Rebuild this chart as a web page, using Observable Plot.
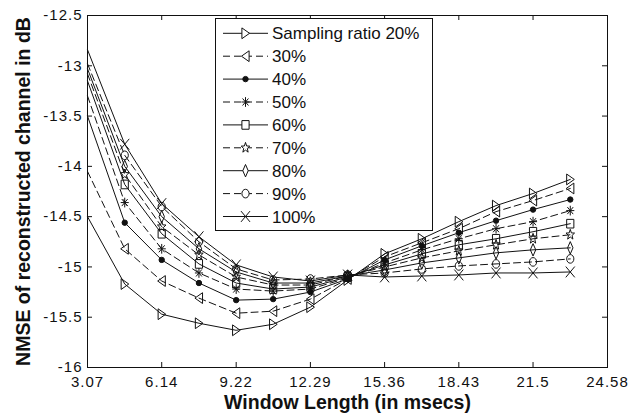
<!DOCTYPE html>
<html><head><meta charset="utf-8">
<script src="https://cdn.jsdelivr.net/npm/d3@7"></script>
<script src="https://cdn.jsdelivr.net/npm/@observablehq/plot@0.6"></script>
<style>body{margin:0;background:#fff;} svg{display:block;background:#fff}</style>
</head><body><div id="chart"></div>
<script>
// ---------------- data ----------------
const windowLengths = [3.07, 4.61, 6.14, 7.68, 9.22, 10.75, 12.29, 13.83, 15.36, 16.9, 18.43, 19.97, 21.5, 23.04];
const seriesNames = ["20%", "30%", "40%", "50%", "60%", "70%", "80%", "90%", "100%"];
const legendLabels = ["Sampling ratio 20%", "30%", "40%", "50%", "60%", "70%", "80%", "90%", "100%"];
const nmse20  = [-14.50, -15.17, -15.47, -15.56, -15.63, -15.57, -15.40, -15.13, -14.87, -14.72, -14.55, -14.39, -14.27, -14.13];
const nmse30  = [-14.05, -14.82, -15.14, -15.31, -15.46, -15.44, -15.32, -15.12, -14.90, -14.76, -14.62, -14.45, -14.34, -14.22];
const nmse40  = [-13.50, -14.56, -14.93, -15.16, -15.33, -15.32, -15.25, -15.12, -14.93, -14.79, -14.66, -14.54, -14.43, -14.33];
const nmse50  = [-13.30, -14.36, -14.82, -15.06, -15.22, -15.24, -15.22, -15.11, -14.96, -14.83, -14.72, -14.62, -14.55, -14.44];
const nmse60  = [-13.15, -14.18, -14.67, -14.97, -15.16, -15.22, -15.20, -15.10, -14.98, -14.87, -14.78, -14.72, -14.65, -14.57];
const nmse70  = [-13.08, -14.08, -14.60, -14.88, -15.10, -15.18, -15.18, -15.09, -15.00, -14.91, -14.84, -14.78, -14.72, -14.68];
const nmse80  = [-13.03, -14.00, -14.50, -14.82, -15.05, -15.16, -15.16, -15.09, -15.03, -14.96, -14.91, -14.86, -14.83, -14.81];
const nmse90  = [-12.98, -13.89, -14.40, -14.75, -15.02, -15.13, -15.12, -15.08, -15.06, -15.02, -14.99, -14.97, -14.95, -14.92];
const nmse100 = [-12.84, -13.78, -14.37, -14.70, -14.98, -15.10, -15.14, -15.08, -15.10, -15.09, -15.08, -15.06, -15.06, -15.05];
const seriesValues = [nmse20, nmse30, nmse40, nmse50, nmse60, nmse70, nmse80, nmse90, nmse100];

const xTicks = [3.07, 6.14, 9.22, 12.29, 15.36, 18.43, 21.5, 24.58];
const xTickLabels = ["3.07", "6.14", "9.22", "12.29", "15.36", "18.43", "21.5", "24.58"];
const yTicks = [-16, -15.5, -15, -14.5, -14, -13.5, -13, -12.5];
const yTickLabels = ["-16", "-15.5", "-15", "-14.5", "-14", "-13.5", "-13", "-12.5"];
const xLabel = "Window Length (in msecs)";
const yLabel = "NMSE of reconstructed channel in dB";

// ---------------- styles ----------------
const seriesStyle = [
  {dash: false, marker: "triRight"},
  {dash: true,  marker: "triLeft"},
  {dash: false, marker: "point"},
  {dash: true,  marker: "asterisk"},
  {dash: false, marker: "square"},
  {dash: true,  marker: "pentagram"},
  {dash: false, marker: "diamond"},
  {dash: true,  marker: "circle"},
  {dash: false, marker: "cross"}
];
const INK = "#111";
const FONT = "Arial, 'Liberation Sans', sans-serif";
const W = 644, H = 415, mL = 87, mR = 37, mT = 15, mB = 48;
const pw = W - mL - mR, ph = H - mT - mB;
const MR = 4.5; // marker radius
const SY = 1.2; // vertical stretch of markers

function sym(kind) {
  return {draw(c, size) {
    const r = Math.sqrt(size / Math.PI);
    switch (kind) {
      case "triRight": c.moveTo(-0.8*r, -r*SY); c.lineTo(0.9*r, 0); c.lineTo(-0.8*r, r*SY); c.closePath(); break;
      case "triLeft":  c.moveTo(0.8*r, -r*SY); c.lineTo(-0.9*r, 0); c.lineTo(0.8*r, r*SY); c.closePath(); break;
      case "point": c.moveTo(0.6*r, 0); c.arc(0, 0, 0.6*r, 0, 2*Math.PI); break;
      case "asterisk": {
        const a = 0.9*r, b = a*SY, d = 0.65*r;
        c.moveTo(0, -b); c.lineTo(0, b);
        c.moveTo(-a, 0); c.lineTo(a, 0);
        c.moveTo(-d, -d*SY); c.lineTo(d, d*SY);
        c.moveTo(-d, d*SY); c.lineTo(d, -d*SY);
        break;
      }
      case "square": c.moveTo(-0.8*r, -0.8*r*SY); c.lineTo(0.8*r, -0.8*r*SY); c.lineTo(0.8*r, 0.8*r*SY); c.lineTo(-0.8*r, 0.8*r*SY); c.closePath(); break;
      case "pentagram": {
        const ro = 1.0*r, ri = 0.42*r;
        for (let k = 0; k < 10; k++) {
          const ang = -Math.PI/2 + k*Math.PI/5, rr = k % 2 ? ri : ro;
          const px = rr*Math.cos(ang), py = rr*Math.sin(ang)*SY;
          k ? c.lineTo(px, py) : c.moveTo(px, py);
        }
        c.closePath(); break;
      }
      case "diamond": c.moveTo(0, -1.15*r*SY); c.lineTo(0.6*r, 0); c.lineTo(0, 1.15*r*SY); c.lineTo(-0.6*r, 0); c.closePath(); break;
      case "circle": {
        const rx = 0.8*r, ry = 0.8*r*SY, k = 0.5523;
        c.moveTo(rx, 0);
        c.bezierCurveTo(rx, ry*k, rx*k, ry, 0, ry);
        c.bezierCurveTo(-rx*k, ry, -rx, ry*k, -rx, 0);
        c.bezierCurveTo(-rx, -ry*k, -rx*k, -ry, 0, -ry);
        c.bezierCurveTo(rx*k, -ry, rx, -ry*k, rx, 0);
        c.closePath(); break;
      }
      case "cross": { const a = r, b = r*SY; c.moveTo(-a, -b); c.lineTo(a, b); c.moveTo(-a, b); c.lineTo(a, -b); break; }
    }
  }};
}

// ---------------- marks ----------------
const marks = [];
seriesNames.forEach((name, i) => {
  const rows = windowLengths.map((x, j) => ({x, y: seriesValues[i][j], series: name}));
  const st = seriesStyle[i];
  marks.push(Plot.line(rows, {x: "x", y: "y", stroke: INK, strokeWidth: 1, strokeDasharray: st.dash ? "7,4" : null}));
  marks.push(Plot.dot(rows.filter(d => d.x > windowLengths[0]), {
    x: "x", y: "y", r: MR, symbol: sym(st.marker), stroke: INK, strokeWidth: 1,
    fill: st.marker === "point" ? INK : "none"
  }));
});

const svg = Plot.plot({
  width: W, height: H,
  marginLeft: mL, marginRight: mR, marginTop: mT, marginBottom: mB,
  style: {fontFamily: FONT, background: "#fff", color: INK},
  x: {domain: [xTicks[0], xTicks[xTicks.length - 1]]},
  y: {domain: [yTicks[0], yTicks[yTicks.length - 1]]},
  marks: [
    ...marks,
    Plot.tickX(xTicks, {x: d => d, insetTop: ph - 5, stroke: INK}),
    Plot.tickX(xTicks, {x: d => d, insetBottom: ph - 5, stroke: INK}),
    Plot.tickY(yTicks, {y: d => d, insetRight: pw - 5, stroke: INK}),
    Plot.tickY(yTicks, {y: d => d, insetLeft: pw - 5, stroke: INK}),
    Plot.axisX({ticks: xTicks, tickSize: 0, tickPadding: 9, fontSize: 15, label: null,
      tickFormat: d => xTickLabels[xTicks.indexOf(d)]}),
    Plot.axisY({ticks: yTicks, tickSize: 0, tickPadding: 5, fontSize: 15, label: null,
      tickFormat: d => yTickLabels[yTicks.indexOf(d)]}),
    Plot.frame({stroke: INK, strokeWidth: 1}),
    Plot.text([xLabel], {text: d => d, frameAnchor: "bottom", dy: 41, lineAnchor: "bottom", textAnchor: "middle", fontSize: 19.5, fontWeight: "bold", fill: INK}),
    Plot.text([yLabel], {text: d => d, frameAnchor: "left", dx: -58, rotate: -90, lineAnchor: "bottom", textAnchor: "middle", fontSize: 19.5, fontWeight: "bold", fill: INK})
  ]
});

d3.select(svg).selectAll("g[aria-label='x-axis tick label'] text, g[aria-label='y-axis tick label'] text")
  .style("letter-spacing", "1px");

// ---------------- legend ----------------
const lg = d3.select(svg).append("g").attr("class", "legend").attr("text-anchor", "start");
const LX = 215.5, LY = 18.5, LW = 217, LH = 212, row0 = 33.3, rowStep = 22.9;
lg.append("rect").attr("x", LX).attr("y", LY).attr("width", LW).attr("height", LH)
  .attr("fill", "#fff").attr("stroke", INK).attr("stroke-width", 1);
legendLabels.forEach((lab, i) => {
  const cy = row0 + i * rowStep, st = seriesStyle[i];
  lg.append("line").attr("x1", 223).attr("x2", 268).attr("y1", cy).attr("y2", cy)
    .attr("stroke", INK).attr("stroke-width", 1).attr("stroke-dasharray", st.dash ? "7,4" : null);
  const p = d3.path();
  sym(st.marker).draw(p, Math.PI * MR * MR);
  lg.append("path").attr("d", p.toString()).attr("transform", `translate(245.5,${cy})`)
    .attr("stroke", INK).attr("fill", st.marker === "point" ? INK : "#fff").attr("stroke-width", 1);
  lg.append("text").attr("x", 272).attr("y", cy).attr("dy", "0.36em").attr("text-anchor", "start")
    .attr("font-size", 17).attr("fill", INK).attr("font-family", FONT)
    .text(lab);
});

document.getElementById("chart").appendChild(svg);
</script>
</body></html>
